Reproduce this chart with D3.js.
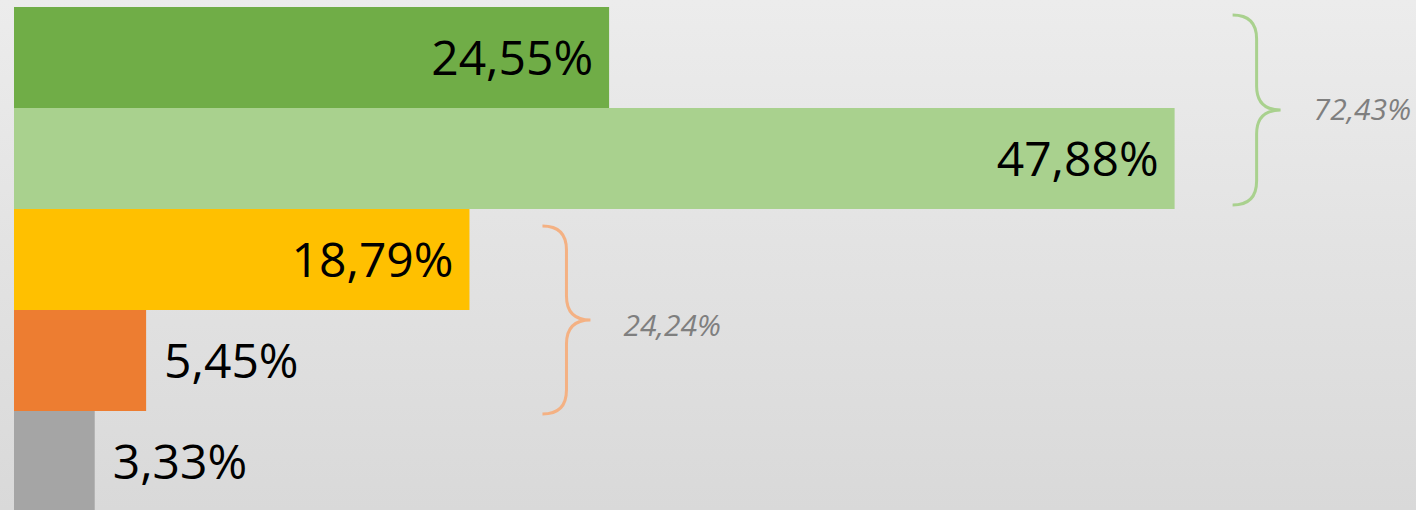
<!DOCTYPE html>
<html>
<head>
<meta charset="utf-8">
<script src="https://cdn.jsdelivr.net/npm/d3@7"></script>
<style>
  html, body { margin: 0; padding: 0; overflow: hidden; }
  svg { display: block; font-family: "Open Sans", sans-serif; }
</style>
</head>
<body>
<svg id="chart"></svg>
<script>
const width = 1416;
const height = 510;

// data
const categories = ["a", "b", "c", "d", "e"];
const values = [24.55, 47.88, 18.79, 5.45, 3.33];
const barColors = ["#70ad47", "#a9d18e", "#ffc000", "#ed7d31", "#a5a5a5"];
const groupLabels = ["72,43%", "24,24%"];
const groupFrom = ["a", "c"];
const groupTo = ["b", "d"];
const groupColors = ["#a9d18e", "#f4b183"];

const fmt = v => v.toFixed(2).replace(".", ",") + "%";

const svg = d3.select("#chart")
  .attr("width", width)
  .attr("height", height);

// soft grey background
const grad = svg.append("defs").append("linearGradient")
  .attr("id", "bg").attr("x1", 0).attr("y1", 0).attr("x2", 0).attr("y2", 1);
grad.append("stop").attr("offset", "0%").attr("stop-color", "#ececec");
grad.append("stop").attr("offset", "100%").attr("stop-color", "#d9d9d9");
svg.append("rect").attr("width", width).attr("height", height).attr("fill", "url(#bg)");

const x = d3.scaleLinear().domain([0, 50]).range([14, 14 + 50 * 24.24]);
const y = d3.scaleBand().domain(categories).range([7, 512]).padding(0);

const rows = categories.map((c, i) => ({ c, v: values[i], color: barColors[i] }));

svg.selectAll("rect.bar")
  .data(rows)
  .enter()
  .append("rect")
  .attr("class", "bar")
  .attr("x", x(0))
  .attr("y", d => y(d.c))
  .attr("width", d => x(d.v) - x(0))
  .attr("height", y.bandwidth())
  .attr("fill", d => d.color);

// value labels: inside the end for long bars, just outside for short ones
svg.selectAll("text.val")
  .data(rows)
  .enter()
  .append("text")
  .attr("class", "val")
  .attr("x", d => d.v > 10 ? x(d.v) - 16 : x(d.v) + 18)
  .attr("y", d => y(d.c) + y.bandwidth() / 2 + 17)
  .attr("text-anchor", d => d.v > 10 ? "end" : "start")
  .attr("font-size", 48)
  .attr("fill", "#000")
  .text(d => fmt(d.v));

// curly braces grouping pairs of bars
function bracePath(x0, y0, y1, w, r) {
  const xm = x0 + w / 2, xp = x0 + w, ym = (y0 + y1) / 2;
  return `M${x0},${y0} Q${xm},${y0} ${xm},${y0 + r} L${xm},${ym - r} Q${xm},${ym} ${xp},${ym}` +
    ` Q${xm},${ym} ${xm},${ym + r} L${xm},${y1 - r} Q${xm},${y1} ${x0},${y1}`;
}

const braceOffsets = [58, 73];
const labelShift = [0, 6];
groupLabels.forEach((label, i) => {
  const i0 = categories.indexOf(groupFrom[i]);
  const i1 = categories.indexOf(groupTo[i]);
  const maxV = d3.max(values.slice(i0, i1 + 1));
  const bx = x(maxV) + braceOffsets[i];
  const top = y(groupFrom[i]) + 8 + i * 9;
  const bottom = y(groupTo[i]) + y.bandwidth() - 4 + i * 7;

  svg.append("path")
    .attr("d", bracePath(bx, top, bottom, 48, 24))
    .attr("fill", "none")
    .attr("stroke", groupColors[i])
    .attr("stroke-width", 3);

  svg.append("text")
    .attr("x", bx + 81)
    .attr("y", (top + bottom) / 2 + 10 + labelShift[i])
    .attr("font-size", 30)
    .attr("font-style", "italic")
    .attr("fill", "#7f7f7f")
    .text(label);
});
</script>
</body>
</html>
